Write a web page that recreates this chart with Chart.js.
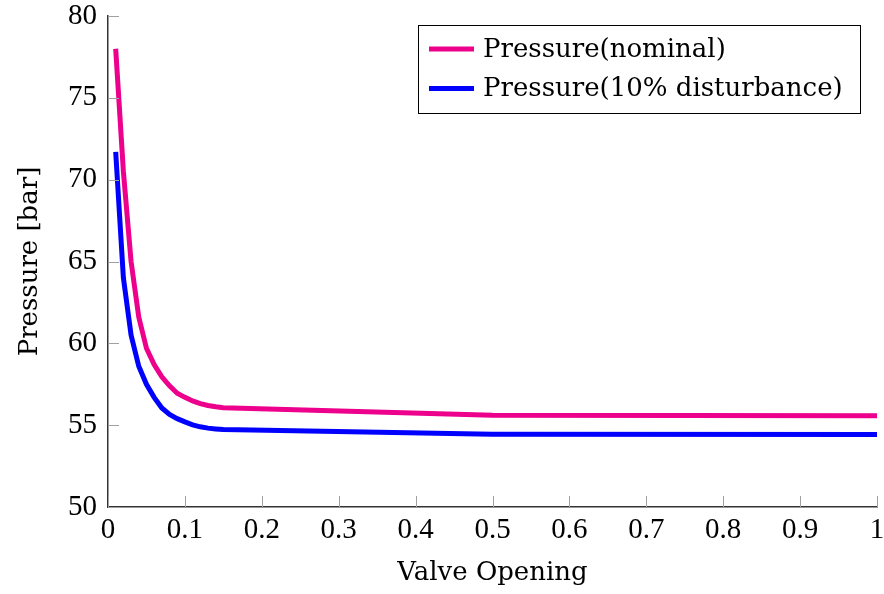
<!DOCTYPE html>
<html>
<head>
<meta charset="utf-8">
<script src="https://cdn.jsdelivr.net/npm/chart.js@4/dist/chart.umd.min.js"></script>
<style>
  html, body { margin: 0; padding: 0; background: #fff; }
  #wrap { width: 884px; height: 594px; }
</style>
</head>
<body>
<div id="wrap"><canvas id="pressureChart" width="884" height="594"></canvas></div>
<script>
// values
const valveOpening = [0.01, 0.02, 0.03, 0.04, 0.05, 0.06, 0.07, 0.08, 0.09, 0.10, 0.11, 0.12, 0.13, 0.14, 0.15, 0.5, 1.0];
const pressureNominal = [78.0, 70.5, 65.0, 61.6, 59.7, 58.7, 57.95, 57.4, 56.95, 56.7, 56.48, 56.32, 56.2, 56.12, 56.06, 55.6, 55.58];
const pressureDisturbed = [71.7, 64.0, 60.5, 58.6, 57.5, 56.7, 56.05, 55.65, 55.4, 55.2, 55.02, 54.9, 54.82, 54.77, 54.73, 54.45, 54.43];
const seriesLabels = ['Pressure(nominal)', 'Pressure(10% disturbance)'];
const seriesColors = ['#ec008c', '#0000ff'];

const numFont = "'Liberation Serif', serif";
const textFont = "'DejaVu Serif', serif";
const numSize = 29;
const textSize = 26;

function toPoints(xs, ys) {
    return xs.map((x, i) => ({ x: x, y: ys[i] }));
}

// keep the plot box fixed, labels may hang over the padding
function noScalePadding(scale) {
    scale.paddingTop = 0;
    scale.paddingBottom = 0;
    scale.paddingLeft = 0;
    scale.paddingRight = 0;
}

// pgfplots style: tick marks pointing into the plot
const innerTicks = {
    id: 'innerTicks',
    afterDatasetsDraw(chart) {
        const { ctx, chartArea, scales } = chart;
        ctx.save();
        ctx.strokeStyle = '#a0a0a0';
        ctx.lineWidth = 1;
        ctx.beginPath();
        scales.x.ticks.forEach(t => {
            const px = Math.round(scales.x.getPixelForValue(t.value)) + 0.5;
            ctx.moveTo(px, chartArea.bottom);
            ctx.lineTo(px, chartArea.bottom - 11);
        });
        scales.y.ticks.forEach(t => {
            const py = Math.round(scales.y.getPixelForValue(t.value)) + 0.5;
            ctx.moveTo(chartArea.left, py);
            ctx.lineTo(chartArea.left + 11, py);
        });
        ctx.stroke();
        ctx.restore();
    }
};

// boxed legend in the upper right of the plot
const boxLegend = {
    id: 'boxLegend',
    afterDraw(chart) {
        const { ctx, chartArea } = chart;
        const right = chartArea.right - 17;
        const left = right - 442;
        const top = chartArea.top + 9;
        const height = 88;
        ctx.save();
        ctx.fillStyle = '#fff';
        ctx.fillRect(left, top, right - left, height);
        ctx.strokeStyle = '#000';
        ctx.lineWidth = 1;
        ctx.strokeRect(left + 0.5, top + 0.5, right - left, height);
        ctx.font = textSize + 'px ' + textFont;
        ctx.textBaseline = 'middle';
        chart.data.datasets.forEach((ds, i) => {
            const y = top + 24 + i * 39.5;
            ctx.strokeStyle = ds.borderColor;
            ctx.lineWidth = 5;
            ctx.beginPath();
            ctx.moveTo(left + 11, y);
            ctx.lineTo(left + 56, y);
            ctx.stroke();
            ctx.fillStyle = '#000';
            ctx.fillText(ds.label, left + 65, y + 1);
        });
        ctx.restore();
    }
};

const ctx = document.getElementById('pressureChart').getContext('2d');
new Chart(ctx, {
    type: 'line',
    data: {
        datasets: [
            {
                label: seriesLabels[0],
                data: toPoints(valveOpening, pressureNominal),
                borderColor: seriesColors[0],
                borderWidth: 5,
                pointRadius: 0,
                tension: 0,
                fill: false
            },
            {
                label: seriesLabels[1],
                data: toPoints(valveOpening, pressureDisturbed),
                borderColor: seriesColors[1],
                borderWidth: 5,
                pointRadius: 0,
                tension: 0,
                fill: false
            }
        ]
    },
    options: {
        responsive: false,
        animation: false,
        layout: { padding: { left: 0, right: 7, top: 16, bottom: 0 } },
        plugins: {
            legend: { display: false },
            tooltip: { enabled: false }
        },
        scales: {
            x: {
                type: 'linear',
                min: 0,
                max: 1,
                ticks: {
                    stepSize: 0.1,
                    padding: 9,
                    color: '#000',
                    maxRotation: 0,
                    font: { family: numFont, size: numSize, lineHeight: 1 },
                    callback: v => String(Math.round(v * 10) / 10)
                },
                grid: { display: false, drawTicks: false, tickLength: 0 },
                border: { display: true, color: '#333', width: 1.5 },
                title: {
                    display: true,
                    text: 'Valve Opening',
                    color: '#000',
                    font: { family: textFont, size: textSize, lineHeight: 1 },
                    padding: { top: 0, bottom: 8 }
                },
                afterFit(scale) {
                    scale.height = 87;
                    noScalePadding(scale);
                }
            },
            y: {
                min: 50,
                max: 80,
                ticks: {
                    stepSize: 5,
                    padding: 11,
                    color: '#000',
                    font: { family: numFont, size: numSize, lineHeight: 1 }
                },
                grid: { display: false, drawTicks: false, tickLength: 0 },
                border: { display: true, color: '#333', width: 1.5 },
                title: {
                    display: true,
                    text: 'Pressure [bar]',
                    color: '#000',
                    font: { family: textFont, size: textSize, lineHeight: 1 },
                    padding: { top: 17, bottom: 0 }
                },
                afterFit(scale) {
                    scale.width = 108;
                    noScalePadding(scale);
                }
            }
        }
    },
    plugins: [innerTicks, boxLegend]
});
</script>
</body>
</html>
